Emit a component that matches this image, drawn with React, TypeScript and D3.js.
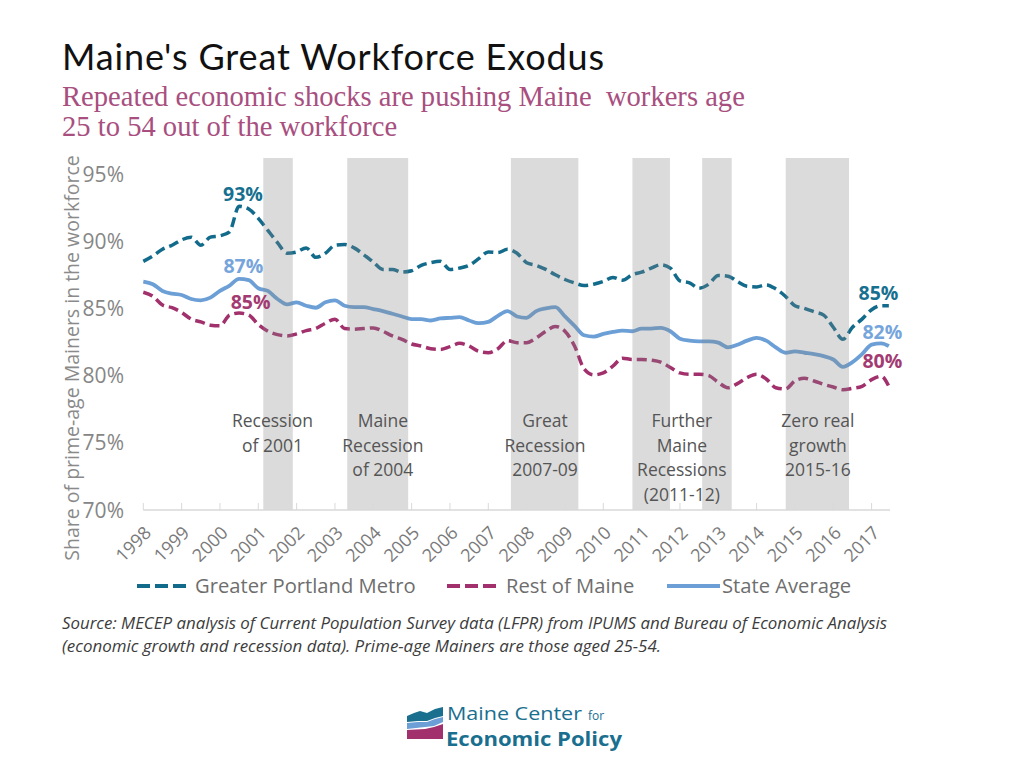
import React from 'react';
import * as d3 from 'd3';

// ---------- DATA ----------
// quarterly periods 1998 Q1 .. 2017 Q2, last reading mid-2017
const periods: number[] = d3.range(0, 78).map((k) => 1998 + k / 4).concat([2017.45]);

const portland: number[] = [
  88.5, 88.9, 89.4, 89.7, 90.1, 90.3, 89.7, 90.3, 90.4, 90.7,
  92.6, 92.4, 91.7, 90.8, 89.9, 89.1, 89.2, 89.5, 88.8, 89.1,
  89.7, 89.75, 89.5, 89.0, 88.45, 87.9, 87.9, 87.7, 87.8, 88.2,
  88.4, 88.5, 87.9, 88.0, 88.2, 88.7, 89.2, 89.15, 89.4, 89.1,
  88.4, 88.2, 87.9, 87.5, 87.15, 86.9, 86.7, 86.8, 87.0, 87.3,
  87.1, 87.5, 87.7, 88.0, 88.25, 88.0, 87.05, 86.9, 86.5, 86.8,
  87.45, 87.4, 87.0, 86.65, 86.6, 86.75, 86.45, 85.9, 85.2, 85.0,
  84.75, 84.5, 83.6, 82.7, 83.6, 84.2, 84.9, 85.2, 85.2,
];

const restOfMaine: number[] = [
  86.2, 85.9, 85.25, 85.05, 84.7, 84.2, 84.0, 83.75, 83.7, 84.5,
  84.65, 84.5, 83.8, 83.3, 83.05, 82.95, 83.1, 83.35, 83.5, 83.9,
  84.2, 83.5, 83.45, 83.5, 83.55, 83.3, 82.95, 82.7, 82.35, 82.2,
  82.0, 81.95, 82.15, 82.4, 82.2, 81.8, 81.7, 82.0, 82.6, 82.45,
  82.45, 82.8, 83.3, 83.65, 83.3, 82.2, 80.5, 80.05, 80.2, 80.7,
  81.3, 81.2, 81.2, 81.15, 81.0, 80.6, 80.2, 80.1, 80.1, 80.0,
  79.5, 79.1, 79.4, 79.85, 80.1, 79.75, 79.1, 79.0, 79.6, 79.8,
  79.6, 79.35, 79.15, 78.95, 79.05, 79.2, 79.7, 79.95, 79.2,
];

const stateAverage: number[] = [
  87.0, 86.8, 86.3, 86.1, 86.0, 85.7, 85.6, 85.8, 86.3, 86.7,
  87.2, 87.1, 86.5, 86.3, 85.7, 85.3, 85.45, 85.2, 85.05, 85.45,
  85.6, 85.2, 85.1, 85.1, 84.95, 84.8, 84.6, 84.4, 84.2, 84.2,
  84.1, 84.25, 84.3, 84.35, 84.1, 83.9, 84.0, 84.45, 84.8, 84.4,
  84.3, 84.8, 85.0, 85.1, 84.4, 83.7, 83.0, 82.9, 83.1, 83.25,
  83.35, 83.3, 83.5, 83.5, 83.55, 83.3, 82.75, 82.6, 82.55, 82.55,
  82.45, 82.1, 82.3, 82.6, 82.8, 82.6, 82.1, 81.7, 81.8, 81.7,
  81.6, 81.45, 81.2, 80.65, 81.0, 81.6, 82.3, 82.4, 82.2,
];

const recessionStart: number[] = [2001.13, 2003.32, 2007.59, 2010.76, 2012.58, 2014.76];
const recessionEnd: number[] = [2001.9, 2004.91, 2009.35, 2011.74, 2013.35, 2016.41];
const recessionCenter: number[] = [2001.37, 2004.25, 2008.48, 2012.05, 2015.6];
const recessionLabels: string[][] = [
  ['Recession', 'of 2001'],
  ['Maine', 'Recession', 'of 2004'],
  ['Great', 'Recession', '2007-09'],
  ['Further', 'Maine', 'Recessions', '(2011-12)'],
  ['Zero real', 'growth', '2015-16'],
];

const yearTicks: number[] = d3.range(1998, 2018);
const pctTicks: number[] = [70, 75, 80, 85, 90, 95];

const seriesNames: string[] = ['Greater Portland Metro', 'Rest of Maine', 'State Average'];

// value labels: text, year, position value, series index
const valueLabelText: string[] = ['93%', '87%', '85%', '85%', '82%', '80%'];
const valueLabelYear: number[] = [2000.6, 2000.61, 2000.8, 2017.18, 2017.28, 2017.28];
const valueLabelPos: number[] = [93.0, 87.63, 84.92, 85.66, 82.69, 80.6];
const valueLabelSeries: number[] = [0, 2, 1, 0, 2, 1];

// ---------- STYLE ----------
const COLORS = ['#136b8c', '#a1306c', '#6b9fd6'];
const LABEL_COLORS = ['#17708f', '#a33b72', '#76a5dc'];
const FONT = "'Open Sans', 'Noto Sans', sans-serif";

export default function App() {
  const x = d3.scaleLinear().domain([1998, 2017.48]).range([143.3, 890]);
  const y = d3.scaleLinear().domain([70, 95]).range([510, 174]);
  const mk = (vals: number[]) =>
    d3
      .line<number>()
      .x((_, i) => x(periods[i]))
      .y((d) => y(d))
      .curve(d3.curveMonotoneX)(vals) as string;

  const series = [portland, restOfMaine, stateAverage];
  const dashes = ['10,5', '10,5', null];
  const bandTop = 158;
  const axisY = y(70);

  return (
    <svg
      width={1024}
      height={768}
      viewBox="0 0 1024 768"
      style={{ position: 'absolute', left: 0, top: 0, background: '#fff' }}
      fontFamily={FONT}
    >
      <rect x={0} y={0} width={1024} height={768} fill="#fff" />
      {/* Title */}
      <text
        x={62}
        y={70}
        fontFamily="Lato, 'Open Sans', sans-serif"
        fontSize={36}
        fill="#111"
        textLength={542}
        lengthAdjust="spacing"
      >
        Maine's Great Workforce Exodus
      </text>
      <text
        x={62}
        y={106}
        fontFamily="'Liberation Serif', 'DejaVu Serif', serif"
        fontSize={28.6}
        fill="#a84f80"
        style={{ whiteSpace: 'pre' }}
      >
        {'Repeated economic shocks are pushing Maine  workers age'}
      </text>
      <text x={62} y={136} fontFamily="'Liberation Serif', 'DejaVu Serif', serif" fontSize={28.6} fill="#a84f80">
        25 to 54 out of the workforce
      </text>

      {/* Lines */}
      {series.map((vals, i) => (
        <path
          key={i}
          d={mk(vals)}
          fill="none"
          stroke={COLORS[i]}
          strokeWidth={i === 2 ? 3.8 : 3.5}
          strokeDasharray={dashes[i] ?? undefined}
          strokeLinejoin="round"
        />
      ))}

      {/* Recession bands (overlay) */}
      {recessionStart.map((s, i) => (
        <rect
          key={i}
          x={x(s)}
          y={bandTop}
          width={x(recessionEnd[i]) - x(s)}
          height={axisY - bandTop}
          fill="#888"
          fillOpacity={0.3}
        />
      ))}

      {/* Band annotations */}
      {recessionLabels.map((lines, i) => (
        <text key={i} x={x(recessionCenter[i])} textAnchor="middle" fontSize={17.5} fill="#555">
          {lines.map((l, j) => (
            <tspan key={j} x={x(recessionCenter[i])} y={427 + j * 24.5}>
              {l}
            </tspan>
          ))}
        </text>
      ))}

      {/* Y axis labels */}
      {pctTicks.map((t) => (
        <text key={t} x={124} y={y(t) + 7.5} textAnchor="end" fontSize={21} fill="#868686">
          {t}%
        </text>
      ))}
      <text
        transform={`translate(79, 358) rotate(-90)`}
        textAnchor="middle"
        fontSize={19.5}
        fill="#8a8a8a"
      >
        Share of prime-age Mainers in the workforce
      </text>

      {/* X axis */}
      <line x1={x(1998)} x2={890} y1={axisY} y2={axisY} stroke="#d9d9d9" strokeWidth={1.5} />
      {yearTicks.map((t) => (
        <line key={t} x1={x(t)} x2={x(t)} y1={axisY} y2={axisY - 7} stroke="#d9d9d9" strokeWidth={1} />
      ))}
      {yearTicks.map((t) => (
        <text
          key={t}
          transform={`translate(${x(t) + 9}, ${axisY + 24}) rotate(-45)`}
          textAnchor="end"
          fontSize={18}
          fill="#7a7a7a"
        >
          {t}
        </text>
      ))}

      {/* Value labels */}
      {valueLabelText.map((t, i) => (
        <text
          key={i}
          x={x(valueLabelYear[i])}
          y={y(valueLabelPos[i])}
          textAnchor="middle"
          fontSize={19.5}
          fontWeight={700}
          fill={LABEL_COLORS[valueLabelSeries[i]]}
        >
          {t}
        </text>
      ))}

      {/* Legend */}
      <g>
        <line x1={137} x2={186} y1={586} y2={586} stroke={COLORS[0]} strokeWidth={4} strokeDasharray="13,5" />
        <text x={195} y={593} fontSize={20.2} fill="#6e6e6e">{seriesNames[0]}</text>
        <line x1={447} x2={496} y1={586} y2={586} stroke={COLORS[1]} strokeWidth={4} strokeDasharray="13,5" />
        <text x={506} y={593} fontSize={20.2} fill="#6e6e6e">{seriesNames[1]}</text>
        <line x1={667} x2={720} y1={586} y2={586} stroke={COLORS[2]} strokeWidth={4} />
        <text x={722} y={593} fontSize={20.2} fill="#6e6e6e">{seriesNames[2]}</text>
      </g>

      {/* Source */}
      <text x={62} y={629} fontSize={16} fontStyle="italic" fill="#3c3c3c" textLength={825} lengthAdjust="spacingAndGlyphs">
        Source: MECEP analysis of Current Population Survey data (LFPR) from IPUMS and Bureau of Economic Analysis
      </text>
      <text x={62} y={652} fontSize={16} fontStyle="italic" fill="#3c3c3c" textLength={599} lengthAdjust="spacingAndGlyphs">
        (economic growth and recession data). Prime-age Mainers are those aged 25-54.
      </text>

      {/* Logo */}
      <g>
        <path d="M407,716 L414,713 L420,711 L427,713 L435,709 L443,707 L443,716 L435,718 L427,721 L418,721 L407,722 Z" fill="#1a6f8f" />
        <path d="M407,723 L418,722 L427,722 L435,719 L443,717 L443,722 L434,726 L425,727 L407,729 Z" fill="#6b9fd6" />
        <path d="M407,730 L425,729 L434,727 L443,724 L443,739 L407,739 Z" fill="#a1306c" />
        <text x={447} y={720} fontSize={19} fill="#1a6f8f" textLength={135} lengthAdjust="spacingAndGlyphs">Maine Center</text>
        <text x={588} y={720} fontSize={12} fill="#1a6f8f">for</text>
        <text x={446} y={746} fontSize={19} fontWeight={700} fill="#1a6f8f" textLength={176} lengthAdjust="spacingAndGlyphs">Economic Policy</text>
      </g>
    </svg>
  );
}
